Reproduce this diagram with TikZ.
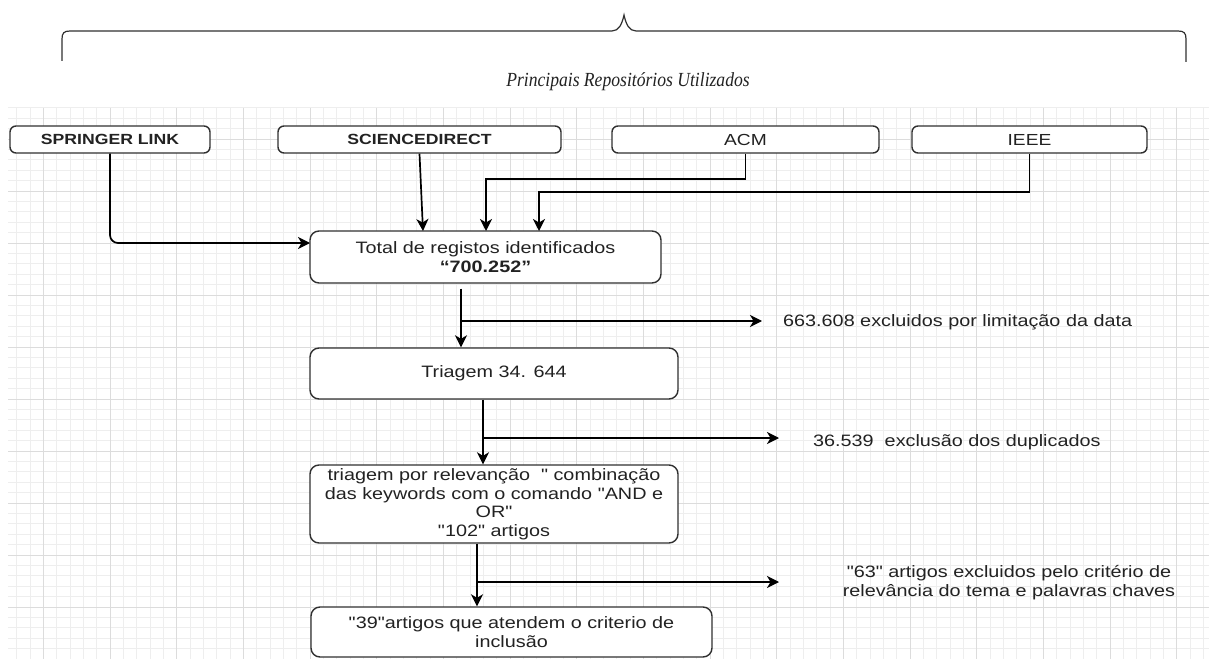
\documentclass[tikz,border=0pt]{standalone}
\usepackage{fontspec}
\setmainfont{Liberation Sans}[FakeStretch=1.2, Ligatures=TeXOff]
\newfontfamily\titlefont{Liberation Serif}[FakeStretch=0.88]
\usetikzlibrary{arrows.meta}
\definecolor{gridmaj}{HTML}{DCDCDC}
\definecolor{gridmin}{HTML}{EEEEEE}
\definecolor{ink}{HTML}{222222}
\definecolor{edge}{HTML}{303030}
\begin{document}
\begin{tikzpicture}[x=1bp,y=-1bp,
  box/.style={draw=edge, line width=1.4bp, rounded corners=6bp, fill=white, inner sep=0pt, text=ink},
  srcbold/.style={box, minimum height=27bp, font=\fontsize{14.7bp}{17bp}\selectfont\bfseries},
  srcreg/.style={box, minimum height=27bp, font=\fontsize{16bp}{18bp}\selectfont},
  stepbox/.style={box, rounded corners=9bp, align=center, font=\fontsize{16.5bp}{18.5bp}\selectfont},
  lbl/.style={inner sep=0pt, text=ink, font=\fontsize{16.5bp}{18.5bp}\selectfont},
  arr/.style={draw=black, line width=1.7bp, -{Stealth[length=12bp,width=12bp,inset=3.5bp]}},
  gridminor/.style={draw=gridmin, line width=0.7bp},
  gridmajor/.style={draw=gridmaj, line width=0.9bp},
  bracestyle/.style={draw=edge, line width=1.2bp},
]
\useasboundingbox (0,0) rectangle (1209,659);
\fill[white] (0,0) rectangle (1209,659);
% grid
\begin{scope}
\clip (8,108) rectangle (1209,659);
\foreach \i in {-3,...,88} \draw[gridminor] ({43.3333+\i*13.3333},108) -- ({43.3333+\i*13.3333},659);
\foreach \j in {-8,...,45} \draw[gridminor] (8,{191+\j*10.4}) -- (1209,{191+\j*10.4});
\foreach \i in {-1,...,18} \draw[gridmajor] ({43.3333+\i*66.6667},108) -- ({43.3333+\i*66.6667},659);
\foreach \j in {-2,...,9} \draw[gridmajor] (8,{191+\j*52}) -- (1209,{191+\j*52});
\end{scope}
% brace and title
\draw[bracestyle] (62,61) -- (62,39) .. controls (62,33) and (64,31) .. (70,31) -- (612,31)
  .. controls (619,31) and (622,24) .. (624,15) .. controls (626,24) and (629,31) .. (636,31)
  -- (1178,31) .. controls (1184,31) and (1186,33) .. (1186,39) -- (1186,62);
\node[inner sep=0pt, text=ink, font=\titlefont\itshape\fontsize{20bp}{22bp}\selectfont] (title) at (628,82) {Principais Repositórios Utilizados};
% sources
\node[srcbold, minimum width=200bp] (springer) at (110,139.5) {SPRINGER LINK};
\node[srcbold, minimum width=283bp] (sci) at (419.5,139.5) {SCIENCEDIRECT};
\node[srcreg, minimum width=267bp] (acm) at (745.5,139.5) {ACM};
\node[srcreg, minimum width=235bp] (ieee) at (1029.5,139.5) {IEEE};
% steps
\node[stepbox, minimum width=351bp, minimum height=52bp] (total) at (485.5,257) {Total de registos identificados\\\textbf{“700.252”}};
\node[stepbox, minimum width=368bp, minimum height=51bp] (triagem) at (494,373.5) {Triagem 34. 644};
\node[stepbox, minimum width=368bp, minimum height=78bp] (relev) at (494,504) {triagem por relevanção\ \ " combinação\\das keywords com o comando "AND e\\OR"\\"102" artigos};
\node[stepbox, minimum width=401bp, minimum height=50bp] (final) at (511.5,632) {"39"artigos que atendem o criterio de\\inclusão};
% side labels
\node[lbl, anchor=west] (ex1) at (783,322) {663.608 excluidos por limitação da data};
\node[lbl, anchor=west] (ex2) at (813,442) {36.539\ \ exclusão dos duplicados};
\node[lbl, align=center] (ex3) at (1009,582.5) {"63" artigos excluidos pelo critério de\\relevância do tema e palavras chaves};
% connectors from sources
\coordinate (sIn) at (310,243);
\coordinate (sciIn) at (423,231);
\coordinate (acmIn) at (486,231);
\coordinate (ieeeIn) at (539,231);
\draw[arr, rounded corners=8bp] (springer.south) |- (sIn);
\draw[arr] (sci.south) -- (sciIn);
\draw[arr] (acm.south) -- ++(0,25) -| (acmIn);
\draw[arr] (ieee.south) -- ++(0,38) -| (ieeeIn);
% flow
\coordinate (b1) at (461,321);
\coordinate (e1) at (762,321);
\coordinate (b2) at (483,438);
\coordinate (e2) at (779,438);
\coordinate (b3) at (477,582);
\coordinate (e3) at (779,582);
\draw[arr, shorten <=5bp] (total.south -| b1) -- (triagem.north -| b1);
\draw[arr] (b1) -- (e1);
\draw[arr] (triagem.south -| b2) -- (relev.north -| b2);
\draw[arr] (b2) -- (e2);
\draw[arr] (relev.south -| b3) -- (final.north -| b3);
\draw[arr] (b3) -- (e3);
\end{tikzpicture}
\end{document}
